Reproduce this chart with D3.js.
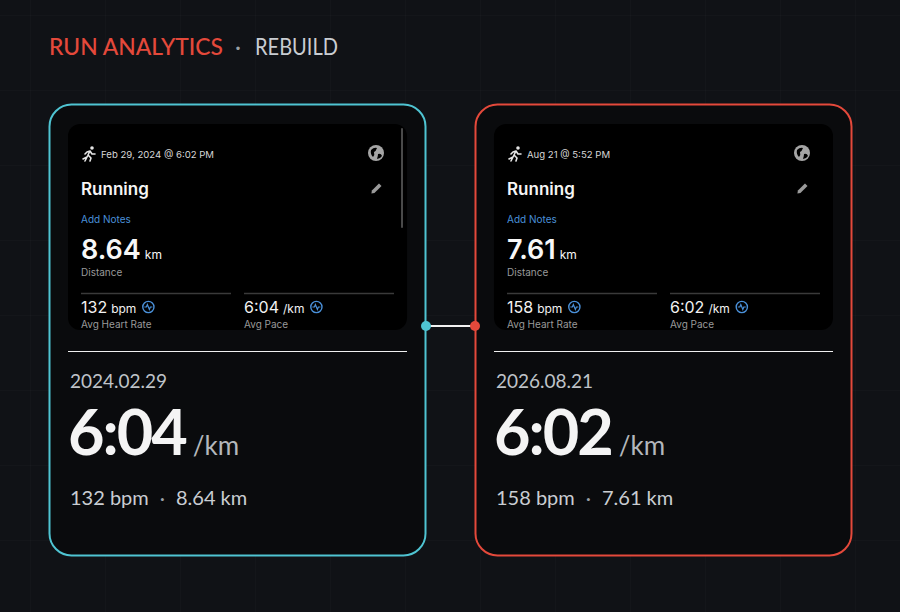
<!DOCTYPE html>
<html><head><meta charset="utf-8">
<script src="https://cdn.jsdelivr.net/npm/d3@7"></script>
<style>html,body{margin:0;padding:0;background:#101216;}svg{display:block}</style>
</head><body>
<svg id="c" width="900" height="612"></svg>
<script>
const runIds = ["before", "after"];
const appDates = ["Feb 29, 2024 @ 6:02 PM", "Aug 21 @ 5:52 PM"];
const isoDates = ["2024.02.29", "2026.08.21"];
const distances = ["8.64", "7.61"];
const heartRates = ["132", "158"];
const paces = ["6:04", "6:02"];
const accentColors = ["#4fc4d2", "#e4493b"];

const W = 900, H = 612;
const svg = d3.select("#c");
const MAIN = "Lato, 'Noto Sans', sans-serif";
const APP = "Inter, 'Noto Sans', sans-serif";

svg.append("rect").attr("width", W).attr("height", H).attr("fill", "#101216");

// faint grid
const gx = d3.range(30, W, 75), gy = d3.range(15, H, 75);
const grid = svg.append("g").attr("stroke", "#ffffff").attr("stroke-opacity", 0.02).attr("stroke-width", 1);
grid.selectAll("line.v").data(gx).join("line").attr("x1", d => d + 0.5).attr("x2", d => d + 0.5).attr("y1", 0).attr("y2", H);
grid.selectAll("line.h").data(gy).join("line").attr("y1", d => d + 0.5).attr("y2", d => d + 0.5).attr("x1", 0).attr("x2", W);

// title
const t = svg.append("text").attr("x", 49).attr("y", 55).attr("font-family", MAIN).attr("font-size", 23).attr("font-weight", 500);
t.append("tspan").attr("fill", "#e4493b").attr("textLength", 174).attr("lengthAdjust", "spacingAndGlyphs").text("RUN ANALYTICS");
svg.append("text").attr("x", 238).attr("y", 55).attr("text-anchor", "middle").attr("font-family", MAIN).attr("font-size", 23).attr("fill", "#9aa0a6").text("·");
svg.append("text").attr("x", 255).attr("y", 55).attr("font-family", MAIN).attr("font-size", 23).attr("fill", "#c9cdd2")
  .attr("textLength", 83).attr("lengthAdjust", "spacingAndGlyphs").text("REBUILD");

const xScale = d3.scaleBand().domain(runIds).range([49, 852]).paddingInner(0.115);
const cardW = xScale.bandwidth();
const cardTop = 104, cardH = 451;

// connector
const c1 = xScale("before") + cardW, c2 = xScale("after");
svg.append("line").attr("x1", c1).attr("x2", c2).attr("y1", 326).attr("y2", 326).attr("stroke", "#f2f2f2").attr("stroke-width", 2);

runIds.forEach((id, i) => {
  const x0 = xScale(id);
  const col = accentColors[i];
  const g = svg.append("g").attr("transform", `translate(${x0},${cardTop})`);
  g.append("rect").attr("x", 0.5).attr("y", 0.5).attr("width", cardW - 1).attr("height", cardH).attr("rx", 22)
    .attr("fill", "#0a0b0d").attr("stroke", col).attr("stroke-width", 2);

  // app screenshot
  const s = g.append("g").attr("transform", "translate(19,20)");
  const sw = cardW - 38, sh = 206;
  s.append("rect").attr("width", sw).attr("height", sh).attr("rx", 12).attr("fill", "#000");
  if (i === 0) s.append("rect").attr("x", sw - 6).attr("y", 4).attr("width", 2).attr("height", 100).attr("rx", 1).attr("fill", "#4a4a4a");

  // runner icon
  const r = s.append("g").attr("transform", "translate(14,22)").attr("stroke", "#e6e6e6").attr("stroke-width", 1.6).attr("fill", "none").attr("stroke-linecap", "round").attr("stroke-linejoin", "round");
  r.append("circle").attr("cx", 10).attr("cy", 2).attr("r", 1.8).attr("fill", "#e6e6e6").attr("stroke", "none");
  r.append("path").attr("d", "M8,5 L5,11 L1,13 M8,5 L5,6 L3,8 M8,5 L10,8 L13,8 M6,9 L9,12 L8,15 M5,11 L3,15");
  s.append("text").attr("x", 33).attr("y", 34).attr("font-family", APP).attr("font-size", 9.6).attr("fill", "#d6d6d6").text(appDates[i]);

  // globe
  const gl = s.append("g").attr("transform", `translate(${sw - 31},29)`);
  gl.append("circle").attr("r", 8).attr("fill", "#a5a5a5");
  gl.append("path").attr("d", "M-5,-3 Q-2,-6 1,-5 Q0,-2 -2,-1 Q-1,2 -3,4 Q-6,1 -5,-3 Z M2,1 Q5,0 6,3 Q4,6 1,6 Q2,3 2,1 Z").attr("fill", "#000");

  s.append("text").attr("x", 13).attr("y", 71).attr("font-family", APP).attr("font-size", 17).attr("font-weight", 600).attr("fill", "#f5f5f5").text("Running");
  // pencil
  s.append("path").attr("transform", `translate(${sw - 31},65) rotate(45)`).attr("d", "M-1.8,-6 L1.8,-6 L1.8,4 L0,6.5 L-1.8,4 Z").attr("fill", "#9a9a9a");

  s.append("text").attr("x", 13).attr("y", 99).attr("font-family", APP).attr("font-size", 10).attr("fill", "#4a90d9").text("Add Notes");
  const dt = s.append("text").attr("x", 13).attr("y", 135).attr("font-family", APP).attr("fill", "#f7f7f7");
  dt.append("tspan").attr("font-size", 27).attr("font-weight", 600).text(distances[i]);
  dt.append("tspan").attr("font-size", 12).attr("dx", 4).text("km");
  s.append("text").attr("x", 13).attr("y", 152).attr("font-family", APP).attr("font-size", 10).attr("fill", "#999").text("Distance");

  const colX = [13, 176];
  const vals = [[heartRates[i], "bpm"], [paces[i], "/km"]];
  const labels = ["Avg Heart Rate", "Avg Pace"];
  colX.forEach((cx, k) => {
    s.append("line").attr("x1", cx).attr("x2", cx + 150).attr("y1", 169.5).attr("y2", 169.5).attr("stroke", "#3a3a3a").attr("stroke-width", 1.5);
    const tv = s.append("text").attr("x", cx).attr("y", 189).attr("font-family", APP).attr("fill", "#f2f2f2");
    tv.append("tspan").attr("font-size", 16).text(vals[k][0]);
    tv.append("tspan").attr("font-size", 12).attr("dx", 4).text(vals[k][1]);
    const bw = tv.node().getComputedTextLength();
    const ic = s.append("g").attr("transform", `translate(${cx + bw + 16},183)`);
    ic.append("circle").attr("r", 5.6).attr("fill", "none").attr("stroke", "#4a90d9").attr("stroke-width", 1.4);
    ic.append("path").attr("d", "M-4,0 L-2,0 L-1,-2.5 L1,2.5 L2,0 L4,0").attr("fill", "none").attr("stroke", "#4a90d9").attr("stroke-width", 1.2);
    s.append("text").attr("x", cx).attr("y", 204).attr("font-family", APP).attr("font-size", 10).attr("fill", "#999").text(labels[k]);
  });

  // divider
  g.append("line").attr("x1", 19).attr("x2", cardW - 19).attr("y1", 247.5).attr("y2", 247.5).attr("stroke", "#f0f0f0").attr("stroke-width", 1.2);

  g.append("text").attr("x", 21).attr("y", 284).attr("font-family", MAIN).attr("font-size", 19).attr("fill", "#bfc3c8").text(isoDates[i]);
  const pt = g.append("text").attr("x", 19).attr("y", 351).attr("font-family", MAIN);
  pt.append("tspan").attr("font-size", 63).attr("font-weight", 700).attr("letter-spacing", -2).attr("fill", "#f4f4f4").text(paces[i]);
  pt.append("tspan").attr("font-size", 26).attr("letter-spacing", 0).attr("fill", "#b3b7bc").attr("dx", 7).text("/km");
  const ft = g.append("text").attr("x", 21).attr("y", 401).attr("font-family", MAIN).attr("font-size", 20).attr("fill", "#c9cdd2");
  ft.append("tspan").text(heartRates[i] + " bpm");
  ft.append("tspan").attr("dx", 11).attr("fill", "#9aa0a6").text("·");
  ft.append("tspan").attr("dx", 11).text(distances[i] + " km");
});

// connector dots
svg.append("circle").attr("cx", c1).attr("cy", 326).attr("r", 5).attr("fill", accentColors[0]);
svg.append("circle").attr("cx", c2).attr("cy", 326).attr("r", 5).attr("fill", accentColors[1]);
</script>
</body></html>
